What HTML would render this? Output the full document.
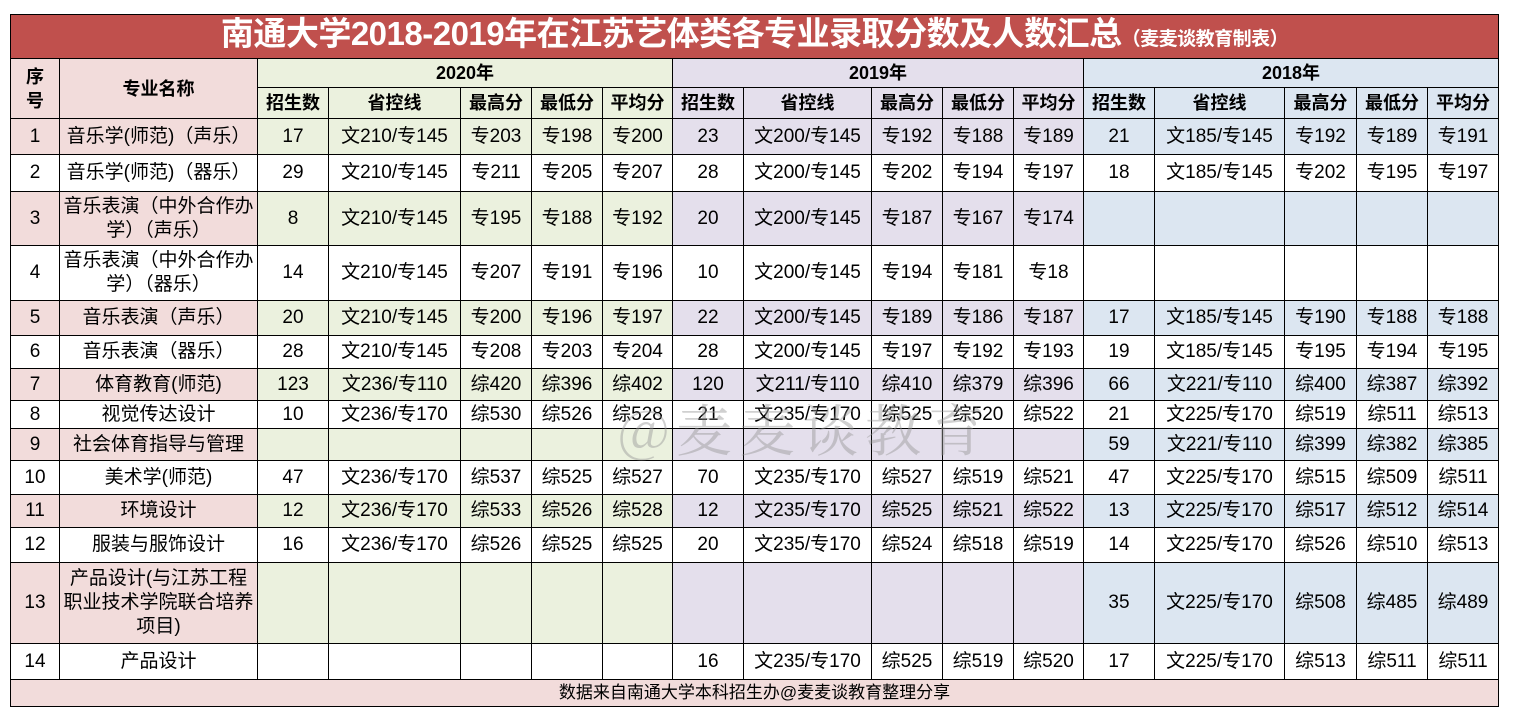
<!DOCTYPE html>
<html><head><meta charset="utf-8"><style>
body{margin:0;background:#fff;width:1513px;height:726px;position:relative;overflow:hidden;font-family:"Liberation Sans","Noto Sans CJK SC",sans-serif;}
table{position:absolute;left:10px;top:14px;border-collapse:collapse;table-layout:fixed;width:1489px;}
td{border:1px solid #000;padding:0;text-align:center;font-size:19px;line-height:24px;color:#000;overflow:hidden;white-space:nowrap;}
.t{background:#c0504d;color:#fff;font-weight:bold;font-size:33px;letter-spacing:-0.5px;}
.t small{font-size:19px;}
.h td{font-weight:bold;font-size:18px;}
.p{background:#f2dcdb}.g{background:#ebf1de}.v{background:#e4dfec}.b{background:#dce6f1}
.wm{position:absolute;left:618px;top:396px;font-family:"Noto Serif CJK SC","Liberation Serif",serif;font-size:56px;line-height:64px;letter-spacing:7px;color:rgba(150,150,150,0.45);pointer-events:none;white-space:nowrap}
.f td{font-size:17px}
</style></head><body>
<table>
<colgroup><col style="width:49px"><col style="width:198px"><col style="width:71px"><col style="width:132px"><col style="width:71px"><col style="width:71px"><col style="width:70px"><col style="width:71px"><col style="width:128px"><col style="width:71px"><col style="width:71px"><col style="width:70px"><col style="width:71px"><col style="width:130px"><col style="width:72px"><col style="width:71px"><col style="width:71px"></colgroup>
<tr style="height:44px"><td class="t" colspan="17">南通大学2018-2019年在江苏艺体类各专业录取分数及人数汇总<small>（麦麦谈教育制表）</small></td></tr>
<tr class="h" style="height:29px"><td class="p" rowspan="2">序<br>号</td><td class="p" rowspan="2">专业名称</td><td class="g" colspan="5">2020年</td><td class="v" colspan="5">2019年</td><td class="b" colspan="5">2018年</td></tr>
<tr class="h" style="height:31px"><td class="g">招生数</td><td class="g">省控线</td><td class="g">最高分</td><td class="g">最低分</td><td class="g">平均分</td><td class="v">招生数</td><td class="v">省控线</td><td class="v">最高分</td><td class="v">最低分</td><td class="v">平均分</td><td class="b">招生数</td><td class="b">省控线</td><td class="b">最高分</td><td class="b">最低分</td><td class="b">平均分</td></tr>
<tr style="height:36px"><td class="p">1</td><td class="p">音乐学(师范)（声乐）</td><td class="g">17</td><td class="g">文210/专145</td><td class="g">专203</td><td class="g">专198</td><td class="g">专200</td><td class="v">23</td><td class="v">文200/专145</td><td class="v">专192</td><td class="v">专188</td><td class="v">专189</td><td class="b">21</td><td class="b">文185/专145</td><td class="b">专192</td><td class="b">专189</td><td class="b">专191</td></tr>
<tr style="height:37px"><td>2</td><td>音乐学(师范)（器乐）</td><td>29</td><td>文210/专145</td><td>专211</td><td>专205</td><td>专207</td><td>28</td><td>文200/专145</td><td>专202</td><td>专194</td><td>专197</td><td>18</td><td>文185/专145</td><td>专202</td><td>专195</td><td>专197</td></tr>
<tr style="height:54px"><td class="p">3</td><td class="p">音乐表演（中外合作办<br>学）（声乐）</td><td class="g">8</td><td class="g">文210/专145</td><td class="g">专195</td><td class="g">专188</td><td class="g">专192</td><td class="v">20</td><td class="v">文200/专145</td><td class="v">专187</td><td class="v">专167</td><td class="v">专174</td><td class="b"></td><td class="b"></td><td class="b"></td><td class="b"></td><td class="b"></td></tr>
<tr style="height:55px"><td>4</td><td>音乐表演（中外合作办<br>学）（器乐）</td><td>14</td><td>文210/专145</td><td>专207</td><td>专191</td><td>专196</td><td>10</td><td>文200/专145</td><td>专194</td><td>专181</td><td>专18</td><td></td><td></td><td></td><td></td><td></td></tr>
<tr style="height:35px"><td class="p">5</td><td class="p">音乐表演（声乐）</td><td class="g">20</td><td class="g">文210/专145</td><td class="g">专200</td><td class="g">专196</td><td class="g">专197</td><td class="v">22</td><td class="v">文200/专145</td><td class="v">专189</td><td class="v">专186</td><td class="v">专187</td><td class="b">17</td><td class="b">文185/专145</td><td class="b">专190</td><td class="b">专188</td><td class="b">专188</td></tr>
<tr style="height:33px"><td>6</td><td>音乐表演（器乐）</td><td>28</td><td>文210/专145</td><td>专208</td><td>专203</td><td>专204</td><td>28</td><td>文200/专145</td><td>专197</td><td>专192</td><td>专193</td><td>19</td><td>文185/专145</td><td>专195</td><td>专194</td><td>专195</td></tr>
<tr style="height:32px"><td class="p">7</td><td class="p">体育教育(师范)</td><td class="g">123</td><td class="g">文236/专110</td><td class="g">综420</td><td class="g">综396</td><td class="g">综402</td><td class="v">120</td><td class="v">文211/专110</td><td class="v">综410</td><td class="v">综379</td><td class="v">综396</td><td class="b">66</td><td class="b">文221/专110</td><td class="b">综400</td><td class="b">综387</td><td class="b">综392</td></tr>
<tr style="height:28px"><td>8</td><td>视觉传达设计</td><td>10</td><td>文236/专170</td><td>综530</td><td>综526</td><td>综528</td><td>21</td><td>文235/专170</td><td>综525</td><td>综520</td><td>综522</td><td>21</td><td>文225/专170</td><td>综519</td><td>综511</td><td>综513</td></tr>
<tr style="height:32px"><td class="p">9</td><td class="p">社会体育指导与管理</td><td class="g"></td><td class="g"></td><td class="g"></td><td class="g"></td><td class="g"></td><td class="v"></td><td class="v"></td><td class="v"></td><td class="v"></td><td class="v"></td><td class="b">59</td><td class="b">文221/专110</td><td class="b">综399</td><td class="b">综382</td><td class="b">综385</td></tr>
<tr style="height:34px"><td>10</td><td>美术学(师范)</td><td>47</td><td>文236/专170</td><td>综537</td><td>综525</td><td>综527</td><td>70</td><td>文235/专170</td><td>综527</td><td>综519</td><td>综521</td><td>47</td><td>文225/专170</td><td>综515</td><td>综509</td><td>综511</td></tr>
<tr style="height:33px"><td class="p">11</td><td class="p">环境设计</td><td class="g">12</td><td class="g">文236/专170</td><td class="g">综533</td><td class="g">综526</td><td class="g">综528</td><td class="v">12</td><td class="v">文235/专170</td><td class="v">综525</td><td class="v">综521</td><td class="v">综522</td><td class="b">13</td><td class="b">文225/专170</td><td class="b">综517</td><td class="b">综512</td><td class="b">综514</td></tr>
<tr style="height:35px"><td>12</td><td>服装与服饰设计</td><td>16</td><td>文236/专170</td><td>综526</td><td>综525</td><td>综525</td><td>20</td><td>文235/专170</td><td>综524</td><td>综518</td><td>综519</td><td>14</td><td>文225/专170</td><td>综526</td><td>综510</td><td>综513</td></tr>
<tr style="height:81px"><td class="p">13</td><td class="p">产品设计(与江苏工程<br>职业技术学院联合培养<br>项目)</td><td class="g"></td><td class="g"></td><td class="g"></td><td class="g"></td><td class="g"></td><td class="v"></td><td class="v"></td><td class="v"></td><td class="v"></td><td class="v"></td><td class="b">35</td><td class="b">文225/专170</td><td class="b">综508</td><td class="b">综485</td><td class="b">综489</td></tr>
<tr style="height:36px"><td>14</td><td>产品设计</td><td></td><td></td><td></td><td></td><td></td><td>16</td><td>文235/专170</td><td>综525</td><td>综519</td><td>综520</td><td>17</td><td>文225/专170</td><td>综513</td><td>综511</td><td>综511</td></tr>
<tr class="f" style="height:27px"><td class="p" colspan="17">数据来自南通大学本科招生办@麦麦谈教育整理分享</td></tr>
</table>
<div class="wm">@麦麦谈教育</div>
</body></html>
